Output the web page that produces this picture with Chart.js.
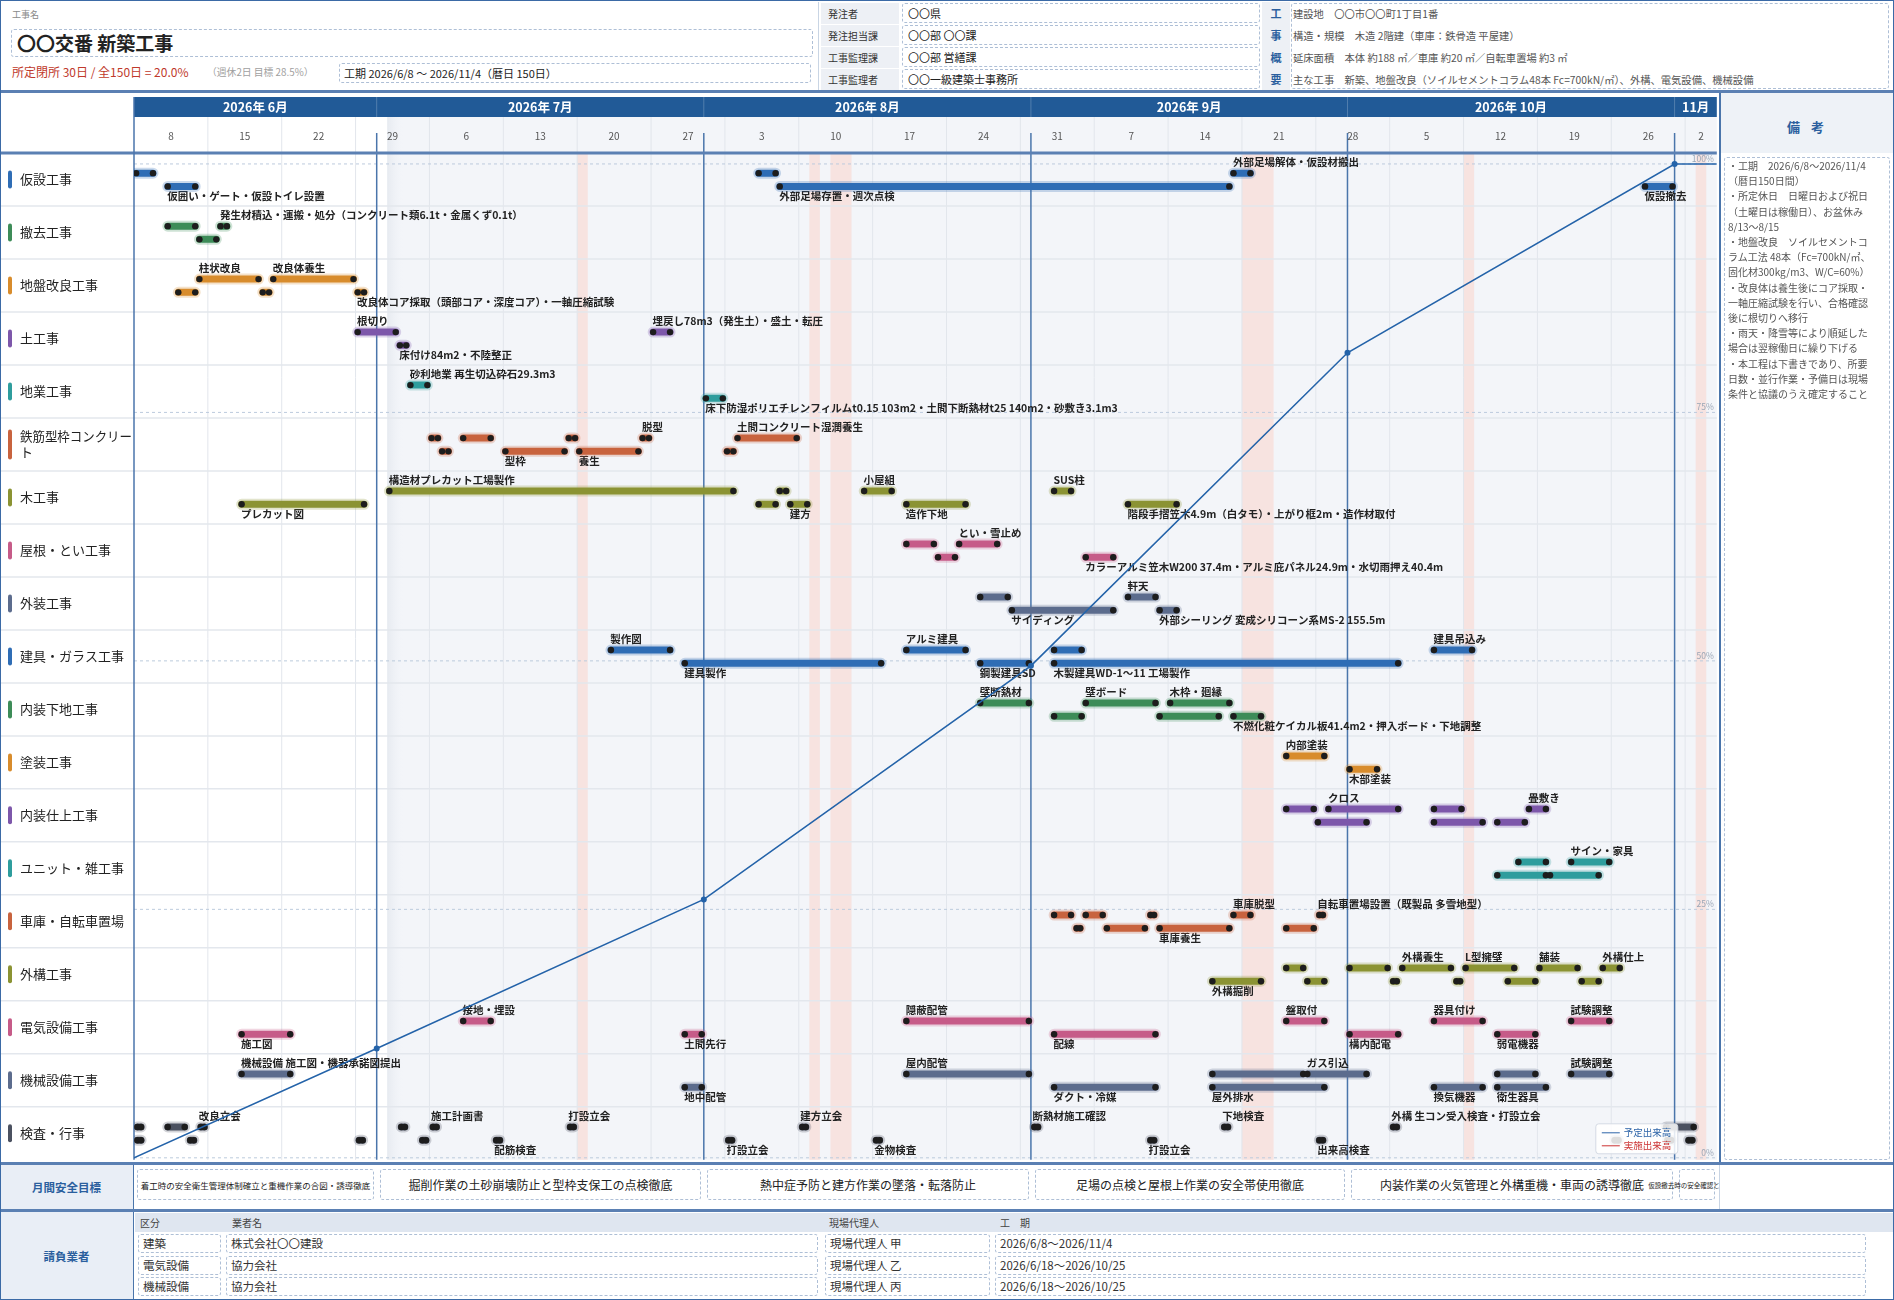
<!DOCTYPE html>
<html lang="ja">
<head>
<meta charset="utf-8">
<title>〇〇交番 新築工事 工程表</title>
<script src="https://cdn.jsdelivr.net/npm/chart.js@4.4.1/dist/chart.umd.min.js"></script>
<style>
  * { box-sizing: border-box; }
  html, body { margin: 0; padding: 0; background: #fff; overflow: hidden; }
  body { font-family: "Noto Sans CJK JP", "Noto Sans", sans-serif; color: #222; }
  #page { position: relative; width: 1894px; height: 1300px; overflow: hidden; background: #fff; }
  .abs { position: absolute; white-space: nowrap; }
  .dash { border: 1px dashed #aebfd6; border-radius: 3px; background: #fff; }
  .lbl { background: #edf0f5; font-size: 10px; color: #333; padding-left: 7px; line-height: 21px; height: 21px; }
  .val { font-size: 11px; padding-left: 5px; line-height: 18px; height: 20px; }
  .blue { color: #2b5f9e; font-weight: bold; }
  #gantt { position: absolute; left: 0; top: 93px; }
  #notes { position: absolute; left: 1719px; top: 93px; width: 175px; height: 1070px; border-left: 2px solid #4a75ab; }
  #notesHead { height: 60px; background: #eef2f7; text-align: center; line-height: 68px; font-size: 13px; letter-spacing: 4px; }
  #notesBody { position: absolute; left: 3px; top: 64px; width: 166px; height: 1003px; padding: 0 3px; font-size: 10px; line-height: 15.2px; color: #555; white-space: normal; }
  #safetyWrap { position: absolute; left: 134px; top: 1165px; width: 1585px; height: 45px; overflow: hidden; }
  .goal { position: absolute; top: 4px; height: 31px; display: flex; align-items: center; justify-content: center; white-space: nowrap; color: #222; }
  .cell { position: absolute; height: 19px; line-height: 17px; font-size: 11.5px; color: #333; padding-left: 4px; }
</style>
</head>
<body>
<div id="page">
  <!-- ヘッダー -->
  <div class="abs" style="left:12px;top:8px;font-size:9px;color:#8a8a8a">工事名</div>
  <div class="abs dash" style="left:11px;top:29px;width:802px;height:28px;padding-left:5px;font-size:19px;font-weight:bold;line-height:26px">〇〇交番 新築工事</div>
  <div class="abs" style="left:12px;top:63px;font-size:12px;color:#c0392b">所定閉所 30日 / 全150日 = 20.0%</div>
  <div class="abs" style="left:207px;top:65px;font-size:9.8px;color:#a0a0a0">（週休2日 目標 28.5%）</div>
  <div class="abs dash" style="left:339px;top:63px;width:472px;height:20px;padding-left:4px;font-size:11px;line-height:18px">工期 2026/6/8 ～ 2026/11/4（暦日 150日）</div>
  <div class="abs" style="left:818px;top:2px;width:1px;height:89px;background:#c9d5e4"></div>
  <div id="ordererBox"></div>
  <div class="abs" style="left:1262px;top:2px;width:28px;height:89px;background:#edf0f5"></div>
  <div class="abs dash" style="left:1291px;top:3px;width:598px;height:86px"></div>
  <div id="overviewBox"></div>
  <div class="abs" style="left:0;top:90px;width:1894px;height:3px;background:#5b80b3"></div>

  <canvas id="gantt" width="1720" height="1070"></canvas>

  <div id="notes">
    <div id="notesHead" class="blue">備 考</div>
    <div id="notesBody" class="dash"></div>
  </div>

  <!-- 月間安全目標 -->
  <div class="abs" style="left:0;top:1162px;width:1894px;height:3px;background:#5b80b3"></div>
  <div class="abs blue" style="left:0;top:1165px;width:134px;height:45px;background:#e9eef6;border-right:1.5px solid #4a75ab;text-align:center;line-height:45px;font-size:11.5px">月間安全目標</div>
  <div id="safetyWrap"></div>
  <div class="abs" style="left:1719px;top:1165px;width:1px;height:45px;background:#c9d5e4"></div>
  <div class="abs" style="left:0;top:1209px;width:1894px;height:3px;background:#5b80b3"></div>

  <!-- 請負業者 -->
  <div class="abs blue" style="left:0;top:1212px;width:134px;height:88px;background:#e9eef6;border-right:1.5px solid #4a75ab;text-align:center;line-height:88px;font-size:11.5px">請負業者</div>
  <div class="abs" style="left:135px;top:1213px;width:1759px;height:19px;background:#dfe6f0"></div>
  <div id="contractBox"></div>

  <div class="abs" style="left:0;top:0;width:1894px;height:1300px;border:1.5px solid #3b6aa6;pointer-events:none"></div>
</div>

<script>
// ===== データ =====
const ordererLabels = ['発注者', '発注担当課', '工事監理課', '工事監理者'];
const ordererValues = ['〇〇県', '〇〇部 〇〇課', '〇〇部 営繕課', '〇〇一級建築士事務所'];
const overviewHeads = ['工', '事', '概', '要'];
const overviewLines = [
    '建設地　〇〇市〇〇町1丁目1番',
    '構造・規模　木造 2階建（車庫：鉄骨造 平屋建）',
    '延床面積　本体 約188 ㎡／車庫 約20 ㎡／自転車置場 約3 ㎡',
    '主な工事　新築、地盤改良（ソイルセメントコラム48本 Fc=700kN/㎡）、外構、電気設備、機械設備'
];

const rowNames = ['仮設工事', '撤去工事', '地盤改良工事', '土工事', '地業工事', '鉄筋型枠コンクリート', '木工事',
    '屋根・とい工事', '外装工事', '建具・ガラス工事', '内装下地工事', '塗装工事', '内装仕上工事', 'ユニット・雑工事',
    '車庫・自転車置場', '外構工事', '電気設備工事', '機械設備工事', '検査・行事'];

// 経過日（6/8 = 0）
const monthNames = ['2026年 6月', '2026年 7月', '2026年 8月', '2026年 9月', '2026年 10月', '11月'];
const monthStarts = [0, 23, 54, 85, 115, 146, 150];
const weekLabels = ['8', '15', '22', '29', '6', '13', '20', '27', '3', '10', '17', '24', '31', '7', '14', '21', '28', '5', '12', '19', '26', '2'];
const holidays = [[42, 43], [64, 65], [66, 68], [105, 108], [126, 127], [148, 149]];

// 出来高（%）
const progressDays = [0, 23, 54, 85, 115, 146, 150];
const progressPlan = [0, 11, 26, 49.5, 81, 100, 100];
const progressActual = [];
const percentTicks = [0, 25, 50, 75, 100];

// 作業：[段(0=上,1=下), 開始日, 終了日, 名称]  開始日=終了日 は1日の行事
const kasetsu = [[0, 0, 2, ''], [1, 3, 6, '仮囲い・ゲート・仮設トイレ設置'], [0, 59, 61, ''], [1, 61, 104, '外部足場存置・週次点検'],
    [0, 104, 106, '外部足場解体・仮設材搬出'], [1, 143, 146, '仮設撤去']];
const tekkyo = [[0, 3, 6, ''], [0, 8, 9, '発生材積込・運搬・処分（コンクリート類6.1t・金属くず0.1t）'], [1, 6, 8, '']];
const jiban = [[0, 6, 12, '柱状改良'], [0, 13, 21, '改良体養生'], [1, 4, 6, ''], [1, 12, 13, ''],
    [1, 21, 22, '改良体コア採取（頭部コア・深度コア）・一軸圧縮試験']];
const dokou = [[0, 21, 25, '根切り'], [1, 25, 26, '床付け84m2・不陸整正'], [0, 49, 51, '埋戻し78m3（発生土）・盛土・転圧']];
const jigyou = [[0, 26, 28, '砂利地業 再生切込砕石29.3m3'],
    [1, 54, 56, '床下防湿ポリエチレンフィルムt0.15 103m2・土間下断熱材t25 140m2・砂敷き3.1m3']];
const kutai = [[0, 28, 29, ''], [0, 31, 34, ''], [0, 41, 42, ''], [0, 48, 49, '脱型'], [0, 57, 63, '土間コンクリート湿潤養生'],
    [1, 29, 30, ''], [1, 35, 41, '型枠'], [1, 42, 48, '養生'], [1, 56, 57, '']];
const mokkou = [[0, 24, 57, '構造材プレカット工場製作'], [0, 61, 62, ''], [0, 69, 72, '小屋組'], [0, 87, 89, 'SUS柱'],
    [1, 10, 22, 'プレカット図'], [1, 59, 61, ''], [1, 62, 64, '建方'], [1, 73, 79, '造作下地'],
    [1, 94, 99, '階段手摺笠木4.9m（白タモ）・上がり框2m・造作材取付']];
const yane = [[0, 73, 76, ''], [0, 78, 82, 'とい・雪止め'], [1, 76, 78, ''],
    [1, 90, 93, 'カラーアルミ笠木W200 37.4m・アルミ庇パネル24.9m・水切雨押え40.4m']];
const gaisou = [[0, 80, 83, ''], [0, 94, 97, '軒天'], [1, 83, 93, 'サイディング'], [1, 97, 99, '外部シーリング 変成シリコーン系MS-2 155.5m']];
const tategu = [[0, 45, 51, '製作図'], [0, 73, 79, 'アルミ建具'], [0, 87, 90, ''], [0, 123, 127, '建具吊込み'],
    [1, 52, 71, '建具製作'], [1, 80, 85, '鋼製建具SD'], [1, 87, 120, '木製建具WD-1～11 工場製作']];
const naisouShita = [[0, 80, 85, '壁断熱材'], [0, 90, 97, '壁ボード'], [0, 98, 104, '木枠・廻縁'], [1, 87, 90, ''], [1, 97, 103, ''],
    [1, 104, 107, '不燃化粧ケイカル板41.4m2・押入ボード・下地調整']];
const tosou = [[0, 109, 113, '内部塗装'], [1, 115, 118, '木部塗装']];
const naisouShiage = [[0, 109, 112, ''], [0, 113, 120, 'クロス'], [0, 123, 126, ''], [0, 132, 134, '畳敷き'],
    [1, 112, 117, ''], [1, 123, 128, ''], [1, 129, 132, '']];
const zatsu = [[0, 131, 134, ''], [0, 136, 140, 'サイン・家具'], [1, 129, 134, ''], [1, 134, 139, '']];
const shako = [[0, 87, 89, ''], [0, 90, 92, ''], [0, 96, 96, ''], [0, 104, 106, '車庫脱型'], [0, 112, 112, '自転車置場設置（既製品 多雪地型）'],
    [1, 89, 89, ''], [1, 92, 96, ''], [1, 97, 104, '車庫養生'], [1, 109, 112, '']];
const gaikou = [[0, 109, 111, ''], [0, 115, 119, ''], [0, 120, 125, '外構養生'], [0, 126, 131, 'L型擁壁'], [0, 133, 137, '舗装'],
    [0, 139, 141, '外構仕上'], [1, 102, 107, '外構掘削'], [1, 111, 113, ''], [1, 119, 119, ''], [1, 125, 125, ''],
    [1, 130, 133, ''], [1, 137, 139, '']];
const denki = [[0, 31, 34, '接地・埋設'], [0, 73, 85, '隠蔽配管'], [0, 109, 113, '盤取付'], [0, 123, 128, '器具付け'], [0, 136, 140, '試験調整'],
    [1, 10, 15, '施工図'], [1, 52, 54, '土間先行'], [1, 87, 97, '配線'], [1, 115, 120, '構内配電'], [1, 129, 133, '弱電機器']];
const kikai = [[0, 10, 15, '機械設備 施工図・機器承諾図提出'], [0, 73, 85, '屋内配管'], [0, 102, 111, ''], [0, 111, 117, 'ガス引込'],
    [0, 129, 133, ''], [0, 136, 140, '試験調整'], [1, 52, 54, '地中配管'], [1, 87, 97, 'ダクト・冷媒'], [1, 102, 113, '屋外排水'],
    [1, 123, 128, '換気機器'], [1, 129, 134, '衛生器具']];
const kensa = [[0, 0, 0, ''], [0, 3, 5, ''], [0, 6, 6, '改良立会'], [0, 25, 25, ''], [0, 28, 28, '施工計画書'], [0, 41, 41, '打設立会'],
    [0, 63, 63, '建方立会'], [0, 85, 85, '断熱材施工確認'], [0, 103, 103, '下地検査'], [0, 119, 119, '外構 生コン受入検査・打設立会'],
    [0, 145, 148, ''], [1, 0, 0, ''], [1, 5, 5, ''], [1, 21, 21, ''], [1, 27, 27, ''], [1, 34, 34, '配筋検査'], [1, 56, 56, '打設立会'],
    [1, 70, 70, '金物検査'], [1, 96, 96, '打設立会'], [1, 112, 112, '出来高検査'], [1, 140, 140, ''], [1, 145, 145, ''], [1, 147, 147, '']];

const rowTasks = [kasetsu, tekkyo, jiban, dokou, jigyou, kutai, mokkou, yane, gaisou, tategu, naisouShita, tosou,
    naisouShiage, zatsu, shako, gaikou, denki, kikai, kensa];

const safetyGoals = ['着工時の安全衛生管理体制確立と重機作業の合図・誘導徹底', '掘削作業の土砂崩壊防止と型枠支保工の点検徹底',
    '熱中症予防と建方作業の墜落・転落防止', '足場の点検と屋根上作業の安全帯使用徹底', '内装作業の火気管理と外構重機・車両の誘導徹底',
    '仮設撤去時の安全確認と明示徹底'];

const contractKinds = ['建築', '電気設備', '機械設備'];
const contractNames = ['株式会社〇〇建設', '協力会社', '協力会社'];
const contractAgents = ['現場代理人 甲', '現場代理人 乙', '現場代理人 丙'];
const contractTerms = ['2026/6/8～2026/11/4', '2026/6/18～2026/10/25', '2026/6/18～2026/10/25'];

const noteLines = ['・工期　2026/6/8～2026/11/4', '（暦日150日間）', '・所定休日　日曜日および祝日', '（土曜日は稼働日）、お盆休み',
    '8/13～8/15', '・地盤改良　ソイルセメントコ', 'ラム工法 48本（Fc=700kN/㎡、', '固化材300kg/m3、W/C=60%）',
    '・改良体は養生後にコア採取・', '一軸圧縮試験を行い、合格確認', '後に根切りへ移行', '・雨天・降雪等により順延した',
    '場合は翌稼働日に繰り下げる', '・本工程は下書きであり、所要', '日数・並行作業・予備日は現場', '条件と協議のうえ確定すること'];

// ===== 見た目 =====
const rowColors = ['#2f6db5', '#3d8c58', '#d88c2c', '#7d57aa', '#2e9d9d', '#c8633e', '#8b9333', '#c65b88', '#5c6c8d',
    '#2f6db5', '#3d8c58', '#d88c2c', '#7d57aa', '#2e9d9d', '#c8633e', '#8b9333', '#c65b88', '#5c6c8d', '#4b5160'];
const FONT = '"Noto Sans CJK JP", "Noto Sans", sans-serif';
const LANE_Y = [0.38, 0.63];
const LABEL_Y = [0.17, 0.81];
const goalFont = [8.5, 12, 12, 12, 12, 6.5];

// ===== HTML 部分 =====
function buildHtml() {
    const ob = document.getElementById('ordererBox');
    ob.innerHTML = ordererLabels.map((l, i) => `
        <div class="abs lbl" style="left:821px;top:${3 + i * 22}px;width:78px">${l}</div>
        <div class="abs dash val" style="left:902px;top:${3 + i * 22}px;width:358px">${ordererValues[i]}</div>`).join('');

    const ov = document.getElementById('overviewBox');
    ov.innerHTML = overviewHeads.map((h, i) => `
        <div class="abs blue" style="left:1262px;top:${3 + i * 22}px;width:28px;height:21px;line-height:21px;text-align:center;font-size:11px">${h}</div>
        <div class="abs" style="left:1293px;top:${3 + i * 22}px;height:21px;line-height:21px;font-size:10.3px;color:#555">${overviewLines[i]}</div>`).join('');

    document.getElementById('notesBody').innerHTML = noteLines.join('<br>');

    const dayW = 1584 / 150;
    document.getElementById('safetyWrap').innerHTML = safetyGoals.map((g, i) => {
        const l = monthStarts[i] * dayW + 3, w = (monthStarts[i + 1] - monthStarts[i]) * dayW - 6;
        return `<div class="goal dash" style="left:${l}px;width:${w}px;font-size:${goalFont[i]}px;${i === 5 ? 'overflow:visible;background:transparent' : ''}">${g}</div>`;
    }).join('');

    const hdr = [['区分', 140], ['業者名', 232], ['現場代理人', 829], ['工　期', 1000]];
    let html = hdr.map(([t, x]) => `<div class="abs" style="left:${x}px;top:1213px;line-height:19px;font-size:10px;color:#444">${t}</div>`).join('');
    const cols = [[138, 83], [226, 592], [825, 165], [995, 871]];
    contractKinds.forEach((k, i) => {
        const top = 1234 + i * 21.5;
        [k, contractNames[i], contractAgents[i], contractTerms[i]].forEach((t, c) => {
            html += `<div class="cell dash" style="left:${cols[c][0]}px;top:${top}px;width:${cols[c][1]}px">${t}</div>`;
        });
    });
    document.getElementById('contractBox').innerHTML = html;
}

// ===== グラフ =====
function barPoints(list, r) {
    const pts = [];
    [...list].sort((a, b) => a[0] - b[0] || a[1] - b[1]).forEach(t => {
        const yv = r + LANE_Y[t[0]];
        const single = t[1] === t[2];
        const s = single ? t[1] + 0.33 : t[1] + 0.2;
        const e = single ? t[1] + 0.67 : t[2] - 0.2;
        pts.push({ x: s, y: yv }, { x: e, y: yv }, { x: e, y: null });
    });
    return pts;
}

function line(ctx, x1, y1, x2, y2) {
    ctx.beginPath(); ctx.moveTo(x1, y1); ctx.lineTo(x2, y2); ctx.stroke();
}

const ganttBg = {
    id: 'ganttBg',
    beforeDraw(chart) {
        const { ctx, chartArea: a, scales } = chart;
        const X = v => scales.x.getPixelForValue(v);
        const Y = v => scales.y.getPixelForValue(v);
        const P = v => scales.y2.getPixelForValue(v);
        const weekTop = 24;
        ctx.save();

        // 7月以降の背景
        ctx.fillStyle = '#f3f5f9';
        ctx.fillRect(X(24), weekTop, a.right - X(24), a.bottom - weekTop);
        const g = ctx.createLinearGradient(X(24), 0, X(25.6), 0);
        g.addColorStop(0, '#e6eaf0');
        g.addColorStop(1, 'rgba(243,245,249,0)');
        ctx.fillStyle = g;
        ctx.fillRect(X(24), weekTop, X(25.6) - X(24), a.bottom - weekTop);

        // 祝日・休業
        ctx.fillStyle = 'rgba(250,212,204,0.55)';
        holidays.forEach(([s, e]) => ctx.fillRect(X(s), a.top, X(e) - X(s), a.bottom - a.top));

        // 週の罫線
        ctx.strokeStyle = '#e2e6ec';
        ctx.lineWidth = 1;
        for (let d = 7; d < 150; d += 7) line(ctx, X(d), weekTop, X(d), a.bottom);

        // 行の罫線
        ctx.strokeStyle = '#e3e7ed';
        ctx.lineWidth = 1.5;
        for (let r = 1; r < rowNames.length; r++) line(ctx, 0, Y(r), a.right, Y(r));

        // 出来高の目盛
        ctx.setLineDash([3, 3]);
        ctx.strokeStyle = '#bccbdd';
        ctx.lineWidth = 1;
        percentTicks.forEach(p => line(ctx, a.left, P(p), a.right, P(p)));
        ctx.setLineDash([]);
        ctx.fillStyle = '#9aa6b6';
        ctx.font = `8.5px ${FONT}`;
        ctx.textAlign = 'right';
        ctx.textBaseline = 'bottom';
        percentTicks.forEach(p => ctx.fillText(p + '%', a.right - 3, P(p) - 1));

        // 月の区切り
        ctx.strokeStyle = '#4a75ab';
        ctx.lineWidth = 1.5;
        monthStarts.slice(1, -1).forEach(d => line(ctx, X(d), 40, X(d), a.bottom));

        // 月の帯
        ctx.fillStyle = '#215a97';
        ctx.fillRect(a.left, 4, a.right - a.left, 20);
        ctx.strokeStyle = 'rgba(255,255,255,0.22)';
        ctx.lineWidth = 1;
        monthStarts.slice(1, -1).forEach(d => line(ctx, X(d), 4, X(d), 24));
        ctx.fillStyle = '#fff';
        ctx.font = `bold 12.5px ${FONT}`;
        ctx.textAlign = 'center';
        ctx.textBaseline = 'middle';
        monthNames.forEach((m, i) => ctx.fillText(m, X((monthStarts[i] + monthStarts[i + 1]) / 2), 14.5));

        // 週の日付
        ctx.fillStyle = '#555';
        ctx.font = `10px ${FONT}`;
        weekLabels.forEach((w, i) => {
            const s = i * 7, e = Math.min(s + 7, 150);
            ctx.fillText(w, X((s + e) / 2), 43);
        });

        // 枠線
        ctx.fillStyle = '#5b80b3';
        ctx.fillRect(0, a.top - 1.5, a.right, 3);
        ctx.strokeStyle = '#4a75ab';
        ctx.lineWidth = 1.5;
        line(ctx, a.left, 4, a.left, a.bottom);

        // 工種名
        ctx.textAlign = 'left';
        ctx.font = `13px ${FONT}`;
        rowNames.forEach((name, r) => {
            const cy = Y(r + 0.5);
            const two = name.length > 9;
            const h = two ? 30 : 18;
            ctx.fillStyle = rowColors[r];
            ctx.beginPath();
            ctx.roundRect(8, cy - h / 2, 4, h, 2);
            ctx.fill();
            ctx.fillStyle = '#222';
            if (two) {
                ctx.fillText(name.slice(0, 9), 20, cy - 8, 112);
                ctx.fillText(name.slice(9), 20, cy + 8);
            } else {
                ctx.fillText(name, 20, cy);
            }
        });
        ctx.restore();
    }
};

const taskLabels = {
    id: 'taskLabels',
    beforeDatasetsDraw(chart) {
        const { ctx, scales } = chart;
        ctx.save();
        ctx.font = `bold 10.5px ${FONT}`;
        ctx.fillStyle = '#222';
        ctx.textAlign = 'left';
        ctx.textBaseline = 'middle';
        rowTasks.forEach((list, r) => list.forEach(t => {
            if (!t[3]) return;
            ctx.fillText(t[3], scales.x.getPixelForValue(t[1]) + 1.5, scales.y.getPixelForValue(r + LABEL_Y[t[0]]));
        }));
        ctx.restore();
    }
};

const legendBox = {
    id: 'legendBox',
    afterDatasetsDraw(chart) {
        const { ctx, chartArea: a } = chart;
        const bx = a.right - 121, by = a.bottom - 36, bw = 82, bh = 30;
        ctx.save();
        ctx.fillStyle = 'rgba(255,255,255,0.85)';
        ctx.strokeStyle = '#d5dbe4';
        ctx.lineWidth = 1;
        ctx.beginPath();
        ctx.roundRect(bx, by, bw, bh, 3);
        ctx.fill();
        ctx.stroke();
        ctx.font = `9.5px ${FONT}`;
        ctx.textBaseline = 'middle';
        [['予定出来高', '#2d64a8'], ['実施出来高', '#cc3333']].forEach(([t, c], i) => {
            const yy = by + 9 + i * 13;
            ctx.strokeStyle = c;
            line(ctx, bx + 6, yy, bx + 24, yy);
            ctx.fillStyle = c;
            ctx.fillText(t, bx + 28, yy);
        });
        ctx.restore();
    }
};

function buildChart() {
    const datasets = [{
        label: '予定出来高',
        data: progressDays.map((d, i) => ({ x: d, y: progressPlan[i] })),
        yAxisID: 'y2',
        borderColor: '#2463a9',
        backgroundColor: '#2463a9',
        borderWidth: 1.6,
        pointRadius: progressDays.map((d, i) => (i === 0 || i === progressDays.length - 1) ? 0 : 2.2),
        tension: 0,
        order: -1
    }, {
        label: '実施出来高',
        data: progressActual,
        yAxisID: 'y2',
        borderColor: '#cc3333',
        borderWidth: 1.6,
        pointRadius: 0,
        order: -1
    }];

    rowTasks.forEach((list, r) => {
        const pts = barPoints(list, r);
        // 外側のにじみ
        datasets.push({
            data: pts, yAxisID: 'y', borderColor: rowColors[r] + '40', borderWidth: 11,
            borderCapStyle: 'round', pointRadius: 0, spanGaps: false, order: 2
        });
        datasets.push({
            data: pts, yAxisID: 'y', borderColor: rowColors[r], borderWidth: 7,
            borderCapStyle: 'round', spanGaps: false, order: 1,
            pointRadius: 3.2, pointBackgroundColor: '#1d1d1d', pointBorderWidth: 0, pointHoverRadius: 0
        });
    });

    new Chart(document.getElementById('gantt'), {
        type: 'line',
        data: { datasets },
        options: {
            responsive: false,
            animation: false,
            events: [],
            layout: { padding: { left: 134, top: 60, right: 2, bottom: 3 } },
            plugins: { legend: { display: false }, tooltip: { enabled: false } },
            scales: {
                x: { type: 'linear', min: 0, max: 150, display: false },
                y: { type: 'linear', min: 0, max: 19, reverse: true, display: false },
                y2: { type: 'linear', min: -0.2, max: 101.1, display: false }
            }
        },
        plugins: [ganttBg, taskLabels, legendBox]
    });
}

buildHtml();
Promise.all([
    document.fonts.load(`13px ${FONT}`),
    document.fonts.load(`bold 13px ${FONT}`)
]).catch(() => {}).then(buildChart);
</script>
</body>
</html>
